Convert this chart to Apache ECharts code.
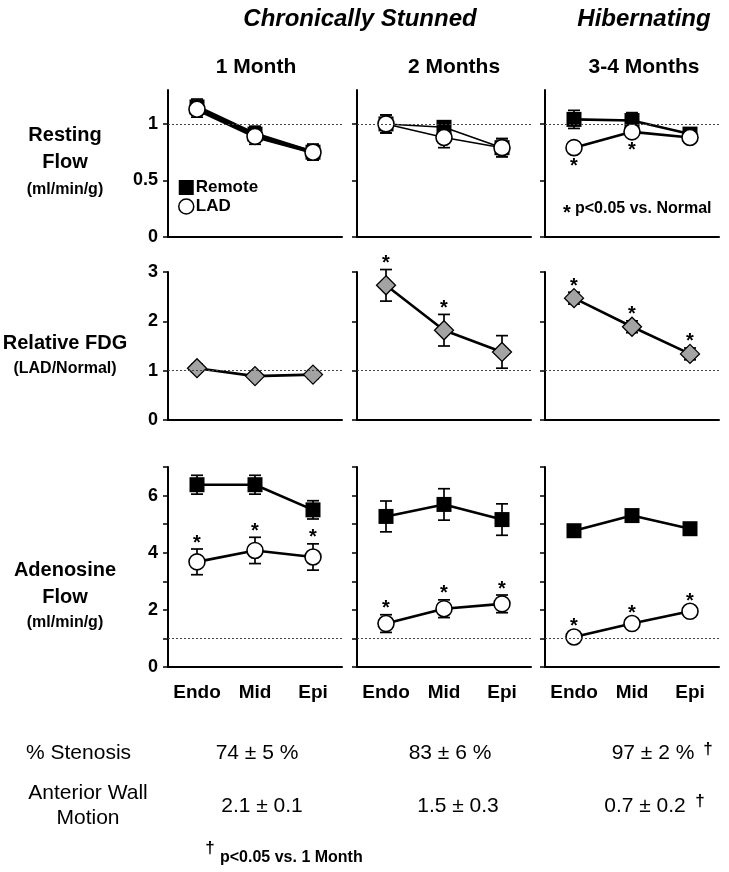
<!DOCTYPE html>
<html>
<head>
<meta charset="utf-8">
<script src="https://cdn.jsdelivr.net/npm/echarts@6/dist/echarts.min.js"></script>
<style>
  html, body { margin: 0; padding: 0; background: #fff; }
  #chart { width: 729px; height: 872px; }
</style>
</head>
<body>
<div id="chart"></div>
<script>
// data (columns: 1 Month, 2 Months, 3-4 Months)
const segments = ['Endo', 'Mid', 'Epi'];
const stages = ['1 Month', '2 Months', '3-4 Months'];

const restRemote   = [[1.15, 0.91, 0.75], [1.00, 0.97, 0.79], [1.04, 1.03, 0.91]];
const restRemoteSd = [[0.07, 0.07, 0.07], [0.08, 0.05, 0.08], [0.08, 0.07, 0.05]];
const restLad      = [[1.13, 0.89, 0.75], [1.00, 0.88, 0.79], [0.79, 0.93, 0.88]];
const restLadSd    = [[0.07, 0.07, 0.07], [0.08, 0.09, 0.08], [0.03, 0.03, 0.03]];
const restLadSig   = [[0, 0, 0], [0, 0, 0], [1, 1, 0]];

const fdgRatio = [[1.05, 0.89, 0.92], [2.73, 1.82, 1.38], [2.47, 1.89, 1.34]];
const fdgSd    = [[0.08, 0.07, 0.08], [0.32, 0.32, 0.33], [0.12, 0.12, 0.12]];
const fdgSig   = [[0, 0, 0], [1, 1, 0], [1, 1, 1]];

const adenoRemote   = [[6.38, 6.38, 5.50], [5.27, 5.69, 5.16], [4.77, 5.30, 4.84]];
const adenoRemoteSd = [[0.33, 0.33, 0.32], [0.54, 0.55, 0.55], [0.20, 0.20, 0.20]];
const adenoLad      = [[3.68, 4.08, 3.85], [1.52, 2.04, 2.21], [1.05, 1.52, 1.95]];
const adenoLadSd    = [[0.45, 0.46, 0.46], [0.31, 0.31, 0.31], [0.17, 0.15, 0.15]];
const adenoLadSig   = [[1, 1, 1], [1, 1, 1], [1, 1, 1]];

const stenosis   = ['74 ± 5 %', '83 ± 6 %', '97 ± 2 %'];
const wallMotion = ['2.1 ± 0.1', '1.5 ± 0.3', '0.7 ± 0.2'];
const vs1Month   = [false, false, true];

const FONT = 'Liberation Sans, Arial, sans-serif';
const colLeft = [168, 357, 545];
const colW = 174;
const rowTop = [90, 272, 467];
const rowH = [147, 148, 200];
const restLineW = [3.8, 1.5, 2.6];

// error bar + significance star, drawn in axis units
function renderErr(params, api) {
    const x = api.value(0), v = api.value(1), sd = api.value(2);
    const sig = api.value(3), below = api.value(4);
    const hi = api.coord([x, v + sd]);
    const lo = api.coord([x, v - sd]);
    const mid = api.coord([x, v]);
    const st = { stroke: '#000', lineWidth: 1.7 };
    const children = [];
    if (sd > 0) {
        children.push({ type: 'line', shape: { x1: hi[0], y1: hi[1], x2: lo[0], y2: lo[1] }, style: st });
        children.push({ type: 'line', shape: { x1: hi[0] - 6, y1: hi[1], x2: hi[0] + 6, y2: hi[1] }, style: st });
        children.push({ type: 'line', shape: { x1: lo[0] - 6, y1: lo[1], x2: lo[0] + 6, y2: lo[1] }, style: st });
    }
    if (sig) {
        const y = below ? mid[1] + 14 : hi[1] - 11;
        children.push({
            type: 'text',
            style: { text: '*', x: mid[0], y: y + 5, align: 'center', verticalAlign: 'middle',
                     font: 'bold 20px ' + FONT, fill: '#000' }
        });
    }
    return { type: 'group', children: children };
}

let chart = echarts.init(document.getElementById('chart'));
let grids = [], xAxes = [], yAxes = [], series = [];

const yConf = [
    { max: 1.3, ticks: [0, 0.5, 1], labels: [0, 0.5, 1] },
    { max: 3, ticks: [0, 1, 2, 3], labels: [0, 1, 2, 3] },
    { max: 7, ticks: [0, 1, 2, 3, 4, 5, 6, 7], labels: [0, 2, 4, 6] }
];

for (let r = 0; r < 3; r++) {
    for (let c = 0; c < 3; c++) {
        const g = grids.length;
        grids.push({ left: colLeft[c], top: rowTop[r], width: colW, height: rowH[r] });
        xAxes.push({
            type: 'category', gridIndex: g, data: segments, boundaryGap: true,
            axisLine: { lineStyle: { color: '#000', width: 2 } },
            axisTick: { inside: true, alignWithLabel: true, length: 6, lineStyle: { color: '#000', width: 1.5 } },
            axisLabel: { show: r === 2, interval: 0, color: '#000', fontFamily: FONT, fontWeight: 'bold',
                         fontSize: 19, margin: 16 }
        });
        yAxes.push({
            type: 'value', gridIndex: g, min: 0, max: yConf[r].max,
            splitLine: { show: false },
            axisLine: { show: true, lineStyle: { color: '#000', width: 2 } },
            axisTick: { show: true, length: 5, customValues: yConf[r].ticks, lineStyle: { color: '#000', width: 1.5 } },
            axisLabel: { show: c === 0, customValues: yConf[r].labels, color: '#000', fontFamily: FONT,
                         fontWeight: 'bold', fontSize: 18, margin: 10 }
        });
        const refLine = {
            silent: true, symbol: 'none', label: { show: false },
            lineStyle: { type: [2, 2], color: '#444', width: 1 },
            data: [{ yAxis: 1 }]
        };
        if (r === 1) {
            series.push({
                type: 'custom', xAxisIndex: g, yAxisIndex: g, z: 1, renderItem: renderErr,
                encode: { x: 0, y: 1 },
                data: fdgRatio[c].map((v, i) => [i, v, fdgSd[c][i], fdgSig[c][i], 0])
            });
            series.push({
                name: 'FDG', type: 'line', xAxisIndex: g, yAxisIndex: g, z: 3,
                data: fdgRatio[c], symbol: 'diamond', symbolSize: [19, 19],
                itemStyle: { color: '#a3a3a3', borderColor: '#000', borderWidth: 1.3 },
                lineStyle: { color: '#000', width: 2.6 },
                markLine: refLine
            });
        } else {
            const rem = r === 0 ? restRemote : adenoRemote;
            const remSd = r === 0 ? restRemoteSd : adenoRemoteSd;
            const lad = r === 0 ? restLad : adenoLad;
            const ladSd = r === 0 ? restLadSd : adenoLadSd;
            const ladSig = r === 0 ? restLadSig : adenoLadSig;
            const lw = r === 0 ? restLineW[c] : 2.6;
            series.push({
                type: 'custom', xAxisIndex: g, yAxisIndex: g, z: 1, renderItem: renderErr,
                encode: { x: 0, y: 1 },
                data: rem[c].map((v, i) => [i, v, remSd[c][i], 0, 0])
            });
            series.push({
                type: 'custom', xAxisIndex: g, yAxisIndex: g, z: 1, renderItem: renderErr,
                encode: { x: 0, y: 1 },
                data: lad[c].map((v, i) => [i, v, ladSd[c][i], ladSig[c][i], r === 0 ? 1 : 0])
            });
            series.push({
                name: 'Remote', type: 'line', xAxisIndex: g, yAxisIndex: g, z: 2,
                data: rem[c], symbol: 'rect', symbolSize: 15,
                itemStyle: { color: '#000' },
                lineStyle: { color: '#000', width: lw },
                markLine: refLine
            });
            series.push({
                name: 'LAD', type: 'line', xAxisIndex: g, yAxisIndex: g, z: 3,
                data: lad[c], symbol: 'circle', symbolSize: 16,
                itemStyle: { color: '#fff', borderColor: '#000', borderWidth: 1.6 },
                lineStyle: { color: '#000', width: lw }
            });
        }
    }
}

// texts around the panels
function txt(text, x, y, font, align) {
    return { type: 'text', x: x, y: y,
             style: { text: text, font: font + ' ' + FONT, fill: '#000', align: align || 'center', verticalAlign: 'middle' } };
}
let graphics = [
    txt('Chronically Stunned', 360, 19, 'italic bold 24px'),
    txt('Hibernating', 644, 19, 'italic bold 24px'),
    txt('Resting', 65, 135, 'bold 20px'),
    txt('Flow', 65, 162, 'bold 20px'),
    txt('(ml/min/g)', 65, 190, 'bold 16px'),
    txt('Relative FDG', 65, 343, 'bold 20px'),
    txt('(LAD/Normal)', 65, 369, 'bold 16px'),
    txt('Adenosine', 65, 570, 'bold 20px'),
    txt('Flow', 65, 597, 'bold 20px'),
    txt('(ml/min/g)', 65, 623, 'bold 16px'),
    txt('*', 567, 213, 'bold 20px'),
    txt('p<0.05 vs. Normal', 575, 209, 'bold 16px', 'left'),
    txt('% Stenosis', 26, 753, '21px', 'left'),
    txt('Anterior Wall', 88, 793, '21px'),
    txt('Motion', 88, 818, '21px'),
    txt('†', 210, 848, 'bold 17px'),
    txt('p<0.05 vs. 1 Month', 220, 858, 'bold 16px', 'left')
];
const stageX = [256, 454, 644];
const stenX = [257, 450, 653];
const wallX = [262, 458, 645];
stages.forEach((s, i) => graphics.push(txt(s, stageX[i], 67, 'bold 21px')));
stenosis.forEach((s, i) => {
    graphics.push(txt(s, stenX[i], 753, '21px'));
    if (vs1Month[i]) graphics.push(txt('†', stenX[i] + 55, 749, 'bold 17px'));
});
wallMotion.forEach((s, i) => {
    graphics.push(txt(s, wallX[i], 806, '21px'));
    if (vs1Month[i]) graphics.push(txt('†', wallX[i] + 55, 801, 'bold 17px'));
});

chart.setOption({
    animation: false,
    backgroundColor: '#fff',
    grid: grids,
    xAxis: xAxes,
    yAxis: yAxes,
    legend: {
        orient: 'vertical', left: 178, top: 179, padding: 0, itemGap: 2,
        itemWidth: 15, itemHeight: 15, selectedMode: false,
        textStyle: { color: '#000', fontFamily: FONT, fontWeight: 'bold', fontSize: 17, padding: [0, 0, 0, -3] },
        data: [
            { name: 'Remote', icon: 'rect', itemStyle: { color: '#000' } },
            { name: 'LAD', icon: 'circle', itemStyle: { color: '#fff', borderColor: '#000', borderWidth: 1.5 } }
        ]
    },
    graphic: graphics,
    series: series
});
</script>
</body>
</html>
